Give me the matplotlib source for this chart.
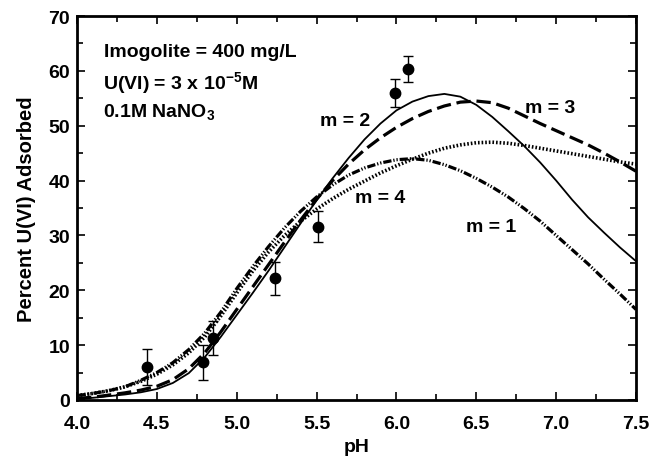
import matplotlib
matplotlib.use("Agg")
import matplotlib.pyplot as plt
from matplotlib.ticker import MultipleLocator

plt.rcParams['font.family'] = ['Liberation Sans', 'DejaVu Sans']
plt.rcParams['font.weight'] = 'bold'
plt.rcParams['mathtext.fontset'] = 'custom'
plt.rcParams['mathtext.rm'] = 'Liberation Sans:bold'
plt.rcParams['mathtext.it'] = 'Liberation Sans:bold'
plt.rcParams['mathtext.bf'] = 'Liberation Sans:bold'
plt.rcParams['mathtext.default'] = 'rm'

# measured uptake
ph_obs = [4.44, 4.79, 4.85, 5.24, 5.51, 5.99, 6.07]
ads_obs = [6.0, 6.9, 11.3, 22.2, 31.6, 56.0, 60.4]
ads_err = [3.3, 3.2, 3.1, 3.0, 2.8, 2.6, 2.4]

# model curves, one per m
ph_fit = [4.0, 4.1, 4.2, 4.3, 4.4, 4.5, 4.6, 4.7, 4.8, 4.9,
          5.0, 5.1, 5.2, 5.3, 5.4, 5.5, 5.6, 5.7, 5.8, 5.9,
          6.0, 6.1, 6.2, 6.3, 6.4, 6.5, 6.6, 6.7, 6.8, 6.9,
          7.0, 7.1, 7.2, 7.3, 7.4, 7.5]
m1 = [0.8, 1.2, 1.7, 2.4, 3.6, 5.0, 6.8, 9.2, 12.2, 16.0,
      20.3, 24.3, 28.0, 31.4, 34.4, 37.0, 39.2, 41.0, 42.3, 43.2,
      43.8, 44.0, 43.7, 42.9, 41.8, 40.4, 38.8, 37.0, 34.9, 32.6,
      30.0, 27.4, 24.8, 22.0, 19.3, 16.5]
m2 = [0.2, 0.4, 0.7, 1.0, 1.4, 2.0, 3.1, 4.9, 7.8, 11.5,
      15.5, 19.5, 23.6, 27.9, 32.2, 36.4, 40.4, 44.1, 47.5, 50.4,
      52.8, 54.4, 55.4, 55.8, 55.3, 53.8, 51.6, 49.0, 46.3, 43.3,
      40.0, 36.5, 33.3, 30.5, 27.8, 25.3]
m3 = [0.3, 0.5, 0.9, 1.3, 1.8, 2.5, 3.7, 5.7, 8.6, 12.4,
      16.5, 20.6, 24.7, 28.8, 32.8, 36.6, 40.0, 43.0, 45.6, 47.8,
      49.7, 51.3, 52.6, 53.6, 54.3, 54.5, 54.2, 53.2, 51.8, 50.4,
      49.1, 47.8, 46.5, 45.0, 43.4, 41.7]
m4 = [0.8, 1.2, 1.7, 2.4, 3.4, 4.7, 6.4, 8.6, 11.5, 15.3,
      19.5, 23.5, 27.0, 30.0, 32.6, 34.8, 36.7, 38.4, 39.9, 41.4,
      42.7, 43.9, 45.0, 45.9, 46.5, 46.9, 47.0, 46.8, 46.4, 45.9,
      45.4, 44.9, 44.4, 43.9, 43.4, 43.0]

fig = plt.figure(figsize=(6.51, 4.60), dpi=100)
ax = fig.add_axes([0.1183, 0.1283, 0.8587, 0.8347])

ax.plot(ph_fit, m2, color='black', lw=1.3, ls='-')
ax.plot(ph_fit, m3, color='black', lw=2.3, ls=(0, (4.5, 1.8)))
ax.plot(ph_fit, m4, color='black', lw=2.6, ls=(0, (0.45, 0.55)))
ax.plot(ph_fit, m1, color='black', lw=2.3,
        ls=(0, (2.6, 0.6, 0.4, 0.6, 0.4, 0.6)))

ax.errorbar(ph_obs, ads_obs, yerr=ads_err, fmt='o', color='black',
            ms=7.5, elinewidth=1.0, capsize=3.3, capthick=1.0, zorder=5)

fs = 14
ax.text(4.17, 63.6, 'Imogolite = 400 mg/L', fontsize=fs, va='center')
ax.text(4.165, 57.9, r'U(VI) = 3 x 10$^{-5}$M', fontsize=fs, va='center')
ax.text(4.16, 52.6, r'0.1M NaNO$_3$', fontsize=fs, va='center')

ax.text(5.68, 50.9, 'm = 2', fontsize=fs, ha='center', va='center')
ax.text(6.96, 53.4, 'm = 3', fontsize=fs, ha='center', va='center')
ax.text(5.90, 36.9, 'm = 4', fontsize=fs, ha='center', va='center')
ax.text(6.59, 31.7, 'm = 1', fontsize=fs, ha='center', va='center')

ax.set_xlim(4.0, 7.5)
ax.set_ylim(0, 70)
ax.xaxis.set_major_locator(MultipleLocator(0.5))
ax.xaxis.set_minor_locator(MultipleLocator(0.25))
ax.yaxis.set_major_locator(MultipleLocator(10))
ax.yaxis.set_minor_locator(MultipleLocator(5))
ax.xaxis.set_major_formatter(plt.FormatStrFormatter('%.1f'))

ax.tick_params(which='both', direction='in', top=True, right=True,
               width=1.2, labelsize=fs)
ax.tick_params(which='major', length=6)
ax.tick_params(which='minor', length=4)
ax.tick_params(axis='x', pad=11)
ax.tick_params(axis='y', pad=5)
for sp in ax.spines.values():
    sp.set_linewidth(2.0)

ax.set_xlabel('pH', fontsize=fs, fontweight='bold', labelpad=4)
ax.set_ylabel('Percent U(VI) Adsorbed', fontsize=14.5, fontweight='bold',
              labelpad=9)

fig.savefig('out.png', dpi=100)
